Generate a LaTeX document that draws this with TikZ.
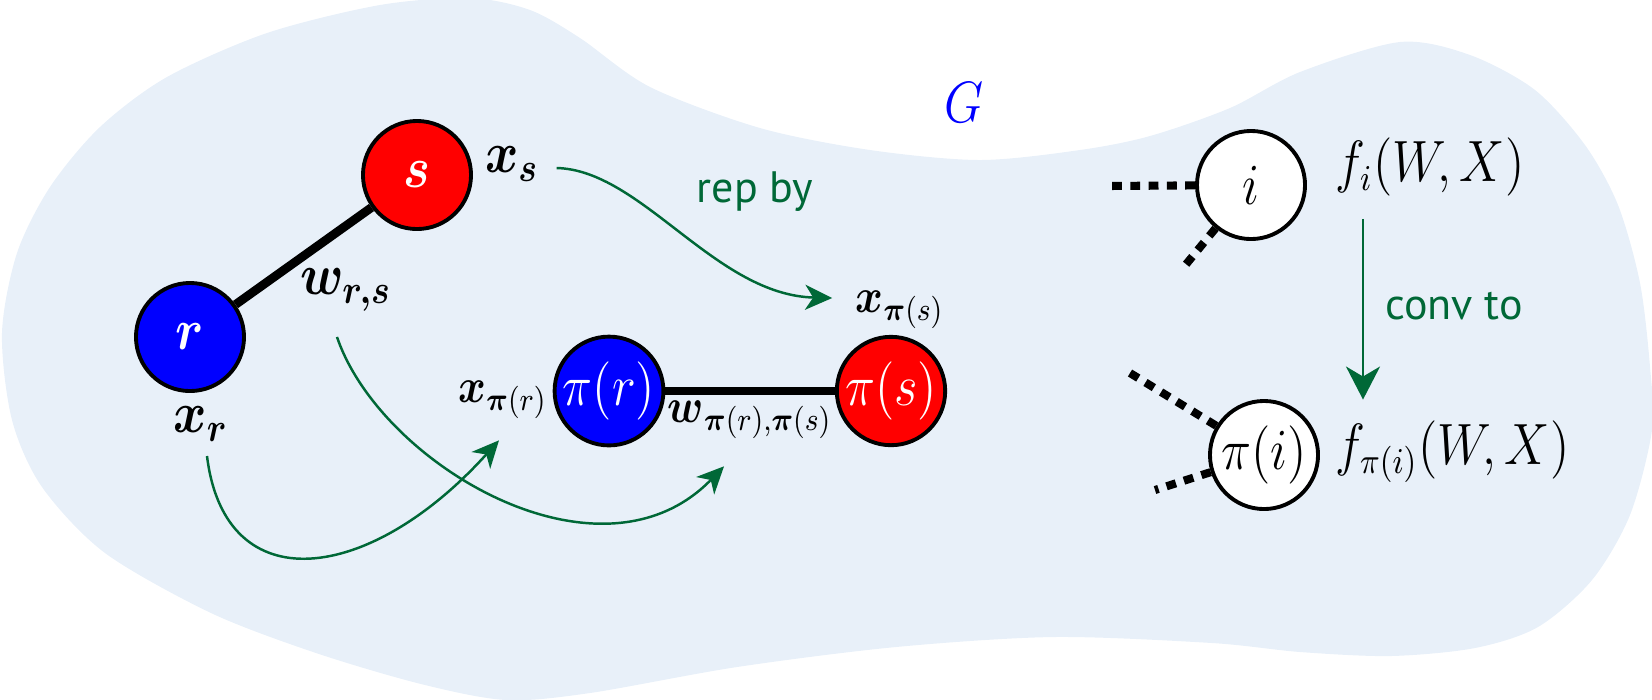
\documentclass[tikz,border=0pt]{standalone}
\usepackage{amsmath}
\usepackage{fontspec}
\newfontfamily\grfont{PT Sans}
\usetikzlibrary{arrows.meta}
\definecolor{blobc}{RGB}{232,240,249}
\definecolor{grn}{RGB}{0,104,55}
\newcommand{\vst}[1]{\scalebox{1}[1.15]{#1}}
\begin{document}
\begin{tikzpicture}[x=0.01cm,y=-0.01cm,
  vtx/.style={circle,draw=black,line width=1.1pt,minimum size=1.08cm,inner sep=0pt,font=\fontsize{14}{16}\selectfont},
  edge/.style={line width=2.5pt},
  dedge/.style={line width=2.3pt,dash pattern=on 2.8pt off 2.4pt},
  lblB/.style={inner sep=0pt,font=\fontsize{14.5}{17}\selectfont},
  lblS/.style={inner sep=0pt,font=\fontsize{11.5}{14}\selectfont},
  lblF/.style={inner sep=0pt,font=\fontsize{13.5}{16}\selectfont},
  garr/.style={draw=grn,line width=0.7pt,-{Stealth[length=0.27cm,width=0.25cm,inset=0.08cm]}},
  garrbig/.style={draw=grn,line width=0.7pt,-{Stealth[length=0.33cm,width=0.34cm,inset=0.1cm]}},
  gtxt/.style={text=grn,font=\grfont\fontsize{12.5}{15}\selectfont,inner sep=0pt}]
\useasboundingbox (0,0) rectangle (1652,699);
\begin{scope}
\clip (0,0) rectangle (1652,699);
\fill[blobc] plot[smooth cycle] coordinates {
  (2,333) (17,253) (50,187) (100,127) (167,77) (267,33) (380,5) (470,-2)
  (530,10) (580,38) (650,87) (760,128) (870,150) (980,160) (1080,150)
  (1150,136) (1230,108) (1300,72) (1400,42) (1470,55) (1535,90) (1585,145)
  (1618,205) (1640,283) (1650,367) (1652,430) (1630,515) (1592,580)
  (1538,627) (1475,648) (1391,656) (1300,652) (1212,643) (1054,637)
  (896,647) (737,667) (590,693) (506,700) (421,684) (316,653) (211,613)
  (105,553) (42,487) (12,420)};
\end{scope}

% vertices
\node[vtx,fill=blue,text=white] (r) at (190,337) {\vst{$\boldsymbol{r}$}};
\node[vtx,fill=red,text=white] (s) at (417,175) {\vst{$\boldsymbol{s}$}};
\node[vtx,fill=blue,text=white] (pr) at (609,391) {\vst{$\pi(r)$}};
\node[vtx,fill=red,text=white] (ps) at (891,391) {\vst{$\pi(s)$}};
\node[vtx,fill=white] (i) at (1251,185) {\vst{$i$}};
\node[vtx,fill=white] (pi) at (1264,455) {\vst{$\pi(i)$}};

% labels
\node[lblB] (xs) at (512,164) {\vst{$\boldsymbol{x_s}$}};
\node[lblB] (wrs) at (346,290) {\vst{$\boldsymbol{w_{r,s}}$}};
\node[lblB] (xr) at (201,424) {\vst{$\boldsymbol{x_r}$}};
\node[lblS] (xpr) at (503,400) {\vst{$\boldsymbol{x}_{\boldsymbol{\pi}(r)}$}};
\node[lblS] (xps) at (900,310) {\vst{$\boldsymbol{x}_{\boldsymbol{\pi}(s)}$}};
\node[lblS] (wp) at (750,420) {\vst{$\boldsymbol{w}_{\boldsymbol{\pi}(r),\boldsymbol{\pi}(s)}$}};
\node[inner sep=0pt,text=blue,font=\fontsize{14}{16}\selectfont] (G) at (964,103) {\vst{$G$}};
\node[lblF,anchor=west] (fi) at (1335,167) {\vst{$f_i(W,X)$}};
\node[lblF,anchor=west] (fpi) at (1335,452) {\vst{$f_{\pi(i)}(W,X)$}};
\node[gtxt,anchor=base] (rep) at (755,202) {rep by};
\node[gtxt,anchor=base] (conv) at (1454,319) {conv to};

% edges
\draw[edge] (r) -- (s);
\draw[edge] (pr) -- (ps);

% dashed stubs
\coordinate (d1) at (1105,186);
\coordinate (d2) at (1183,268);
\coordinate (d3) at (1130,373);
\coordinate (d4) at (1155,490);
\draw[dedge] (i) -- (d1);
\draw[dedge] (i) -- (d2);
\draw[dedge] (pi) -- (d3);
\draw[dedge] (pi) -- (d4);

% green arrows
\draw[garr] ([shift={(17,4)}]xs.east) .. controls +(85,2) and +(-117,-3) .. ([shift={(-23,-12)}]xps.west);
\draw[garr] ([shift={(6,14)}]xr.south) .. controls +(18,147) and +(-129,143) .. ([shift={(-4,21)}]xpr.south);
\draw[garr] ([shift={(-9,25)}]wrs.south) .. controls +(43,127) and +(-124,128) .. ([shift={(-26,27)}]wp.south);
\draw[garrbig] ([shift={(28,22)}]fi.south west) -- ([shift={(28,-21)}]fpi.north west);
\end{tikzpicture}
\end{document}
